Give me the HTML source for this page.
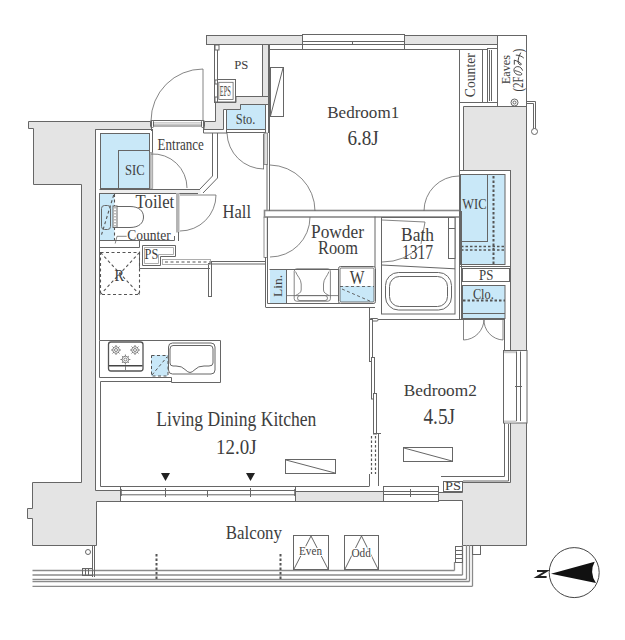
<!DOCTYPE html>
<html><head><meta charset="utf-8">
<style>
html,body{margin:0;padding:0;background:#fff;}
svg{display:block;}
.w{fill:#e4e4e4;stroke:#666;stroke-width:1;}
.f{fill:#fff;stroke:#666;stroke-width:1;}
.l{fill:none;stroke:#666;stroke-width:1;}
.t{fill:none;stroke:#666;stroke-width:0.8;}
.b{fill:#c9e8f8;stroke:#666;stroke-width:1;}
.bn{fill:#c9e8f8;stroke:none;}
.d{fill:none;stroke:#555;stroke-width:2;stroke-dasharray:2.5 2;}
.dt{fill:none;stroke:#555;stroke-width:1.1;stroke-dasharray:3 2.5;}
text{font-family:"Liberation Serif",serif;fill:#3d3d3d;}
</style></head><body>
<svg width="625" height="640" viewBox="0 0 625 640">
<g id="walls">
  <!-- top wall -->
  <rect class="w" x="206.5" y="35.5" width="291" height="9"/>
  <!-- PS/bedroom divider -->
  <rect class="w" x="262.5" y="44.5" width="6" height="59"/>
  <!-- gray below PS -->
  <polygon class="w" points="215.5,102.5 236,102.5 236,96.5 268.5,96.5 268.5,104.5 240.5,104.5 240.5,109.5 223.5,109.5 223.5,129.5 204,129.5 204,121.5 215.5,121.5"/>
  <!-- left exterior wall -->
  <polygon class="w" points="28.5,121.5 151.5,121.5 151.5,129.5 95.5,129.5 95.5,490.5 120.5,490.5 120.5,501.5 96.5,501.5 96.5,545.5 32.5,545.5 32.5,518.5 27.5,518.5 27.5,508.5 32.5,508.5 32.5,482.5 81.5,482.5 81.5,184.5 33.5,184.5 33.5,128.5 28.5,128.5"/>
  <!-- right upper block -->
  <polygon class="w" points="463.5,106.5 526.5,106.5 526.5,350.5 510.5,350.5 510.5,170.5 463.5,170.5"/>
  <!-- right lower -->
  <polygon class="w" points="510.5,422.5 526.5,422.5 526.5,545.5 462.5,545.5 462.5,500.5 438.5,500.5 438.5,492.5 462.5,492.5 462.5,482.5 510.5,482.5"/>
  <!-- bottom middle wall -->
  <rect class="w" x="295.5" y="491.5" width="88" height="10"/>
</g>

<g id="rooms">
  <!-- PS room -->
  <rect class="f" x="217.5" y="44.5" width="45" height="52"/>
  <!-- PS left thin wall -->
  <rect class="f" x="214.5" y="44.5" width="3" height="58"/>
  <rect class="f" x="215" y="45" width="4" height="5"/>
  <rect class="f" x="215" y="80" width="4" height="4"/>
  <rect class="f" x="215" y="97" width="4" height="5"/>
  <!-- EPS -->
  <rect class="f" x="217.5" y="79.5" width="18" height="22.5"/>
  <rect class="t" x="218.8" y="82.3" width="14.3" height="17.2"/>
  <!-- Sto -->
  <polygon class="b" points="226.5,109.5 240.5,109.5 240.5,104.5 265.5,104.5 265.5,129.5 226.5,129.5"/>
  <rect class="f" x="226.5" y="129.5" width="39" height="3"/>
  <!-- entrance threshold -->
  <rect class="f" x="151.5" y="120.5" width="52" height="5.5"/>
  <path d="M152,122.8 H203 M152,124.3 H203" stroke="#aaa" stroke-width="0.8" fill="none"/>
  <rect class="f" x="150.5" y="120.5" width="3" height="7" rx="1"/>
  <rect class="f" x="201.5" y="120.5" width="3" height="7" rx="1"/>
  <path class="l" d="M151.5,121 v10 M203.5,121 v12 H227"/>
  <!-- Entrance right wall -->
  <path class="l" d="M212.5,133 V176 L200,189 M217.5,133 V178 L203,193"/>
  <!-- SIC -->
  <rect class="b" x="100.5" y="133.5" width="49" height="55"/>
  <rect class="l" x="118.5" y="150.5" width="31" height="38"/>
  <path class="l" d="M152.5,129 V153"/>
  <rect x="150" y="152.5" width="2.8" height="36" fill="#c8c8c8" stroke="#888" stroke-width="0.6"/>
  <!-- toilet top wall -->
  <rect x="99.5" y="189.5" width="101" height="4" fill="#eee" stroke="none"/>
  <path class="l" d="M99.5,189.5 H200 M99.5,193.5 H198"/>
  <!-- toilet right wall -->
  <rect x="176" y="193" width="3.5" height="39.5" fill="#b4b4b4"/>
  <!-- toilet room -->
  <rect class="bn" x="100" y="194" width="14.5" height="46"/>
  <path class="dt" d="M114.5,194 V240 M113.7,195 L100.8,237"/>
  <path class="l" d="M99.5,240.5 H174.5 V236 M99.5,193 V340"/>
  <path class="l" d="M99.5,247.5 H139.5 V240.5"/>
  <rect class="l" x="101.5" y="205.5" width="9" height="24" rx="3"/>
  <rect class="f" x="113" y="206" width="4" height="21.5"/>
  <path class="dt" d="M115,207 V227" style="stroke-width:0.8;stroke-dasharray:1.5 1.5"/>
  <path class="l" d="M117,206.5 H130 C139,206.5 143.5,211 143.5,217 C143.5,223 139,227.5 130,227.5 H117"/>
  <path class="t" d="M115.2,243.5 L117,236.3 H126.7"/>
  <!-- inner left line -->
  <path class="l" d="M95.5,129.5 V490"/>
  <!-- hall/bedroom1 wall -->
  <rect x="264" y="133" width="3.5" height="31.5" fill="#e0e0e0" stroke="#777" stroke-width="0.8"/>
  <path class="l" d="M267,164 V211"/>
  <rect x="264" y="217" width="3.2" height="40.5" fill="#fff" stroke="#777" stroke-width="0.8"/>
  <path class="l" d="M265.5,257 V307"/>
  <!-- bedroom1 / powder wall -->
  <rect x="264.5" y="210.5" width="196" height="6.5" fill="#fff" stroke="#888" stroke-width="1.6"/>
  <!-- bedroom1 left inner -->
  <path class="l" d="M269.5,44.5 V211 M268.5,104 V133"/>
  <!-- top inner line -->
  <path class="l" d="M269.5,49.5 H459"/>
  <!-- closet in bedroom1 -->
  <rect class="f" x="270.5" y="67.5" width="13" height="49"/>
  <path class="l" d="M283,68 L270.5,116"/>
  <!-- Eaves box -->
  <rect class="f" x="497.5" y="35.5" width="29" height="71"/>
  <!-- counter box -->
  <rect class="f" x="459.5" y="49.5" width="23" height="53"/>
  <rect class="f" x="482.5" y="49.5" width="5" height="53"/>
  <rect class="f" x="487.5" y="48.5" width="10" height="54"/>
  <path class="l" d="M489.5,50 V101 M491.5,50 V101"/>
  <!-- right block inner line -->
  <path class="l" d="M459.5,102 V211"/>
  <!-- gutter -->
  <path class="l" d="M526.5,101.5 H535.5 V130"/>
  <path class="l" d="M526.5,103.5 H533.5 V130"/>
  <circle class="f" cx="534.5" cy="131.5" r="3"/>
  <circle class="l" cx="514.5" cy="102.5" r="3.5"/>
  <circle class="l" cx="514.5" cy="102.5" r="1.5"/>
  <!-- WIC -->
  <rect class="f" x="459.5" y="170.5" width="51" height="96"/>
  <rect class="b" x="460.5" y="174.5" width="44.5" height="90"/>
  <rect class="l" x="460.5" y="174.5" width="27" height="67"/>
  <path class="d" d="M493.5,176 V264"/>
  <path class="d" d="M461,246.5 H505 M461,250 H505" style="stroke-width:1.5"/>
  <!-- PS right -->
  <rect class="f" x="462.5" y="268.5" width="47" height="13"/>
  <!-- Clo -->
  <rect class="b" x="462.5" y="285.5" width="42.5" height="33"/>
  <path class="d" d="M463,300.5 H505"/>
  <path class="l" d="M463,313.5 H505"/>
  <path class="l" d="M504.5,318 V476.5 H441 M508.5,424 V481 H463"/>
  <path class="l" d="M459.5,266 V319"/>
  <!-- powder room -->
  <path class="l" d="M265.5,307.5 H375 M267.5,217 V303.5 H374"/>
  <rect class="bn" x="270" y="270" width="16" height="33"/>
  <path class="l" d="M269.5,269.5 H375 M286.5,270 V303"/>
  <rect class="f" x="338.5" y="266.5" width="37" height="37" rx="2"/>
  <rect class="bn" x="340" y="286" width="34" height="16"/>
  <rect class="t" x="340" y="268" width="34" height="34" rx="1" style="stroke:#555"/>
  <path class="dt" d="M340,286.5 H374 M342,289 L372,302" style="stroke-width:0.9"/>
  <!-- vanity sink -->
  <rect class="t" x="294.2" y="268.8" width="36.2" height="32.4" rx="2.5"/>
  <path class="t" d="M295.5,271.5 C297,276 301.2,279 301.2,284 V290 C301.2,293 298,294 295.5,295.6 M329,271.5 C327.5,276 323.5,279 323.5,284 V290 C323.5,293 326.5,294 329,295.6"/>
  <path class="t" d="M286.5,295.6 H338"/>
  <rect class="t" x="297.5" y="295.6" width="30" height="5" rx="2.5"/>
  <!-- bath -->
  <path class="l" d="M375,216.5 V267 M461.5,211 V319.5"/>
  <rect class="f" x="381.5" y="217.5" width="73.5" height="96.5"/>
  <path class="l" d="M381.5,265 L455,268.8"/>
  <rect class="l" x="385.5" y="272.5" width="66" height="37.5" rx="13"/>
  <rect class="l" x="389.5" y="276.5" width="58" height="30" rx="10"/>
  <rect class="f" x="448.5" y="217.5" width="6.5" height="41"/>
  <path class="l" d="M448.5,228.5 H455"/>
  <path class="t" d="M382,220 L425,222 L421,244 M382,262 Q405,262 420,246"/>
  <!-- bedroom2 top and left -->
  <path class="l" d="M369.5,319.5 H504 M378.5,433 V486 M369.5,307.5 V319"/>
  <!-- sliding panels -->
  <rect class="f" x="369.5" y="318.5" width="8.5" height="2.5" rx="1"/>
  <rect class="f" x="369.5" y="319.5" width="3" height="42"/>
  <rect class="f" x="371.5" y="357.5" width="3" height="41.5"/>
  <rect class="f" x="373.5" y="393.5" width="3" height="40.5"/>
  <path class="l" d="M373,433.5 H381"/>
  <path class="dt" d="M371.5,436 V474 M375.5,436 V474" style="stroke-width:1.2;stroke-dasharray:2.5 2"/>
  <path class="l" d="M369.5,474 V486"/>
  <!-- LDK upper wall -->
  <rect class="f" x="211.5" y="261.5" width="54" height="2.5"/>
  <rect class="f" x="208.5" y="263.5" width="3" height="33"/>
  <path class="dt" d="M165,262 H211"/>
  <!-- PS toilet side -->
  <polygon class="f" points="142.5,245.5 175.5,245.5 175.5,256.5 160.5,256.5 160.5,265.5 142.5,265.5"/>
  <polygon class="t" points="144.5,247.5 173.5,247.5 173.5,254.5 158.5,254.5 158.5,263.5 144.5,263.5" style="stroke:#999"/>
  <rect class="t" x="162.5" y="259.5" width="48" height="5" style="stroke:#999"/>
  <path class="l" d="M139.5,251.5 V268.5 H210 M178.5,232 V241"/>
  <!-- R box -->
  <rect class="dt" x="100.5" y="252.5" width="39" height="42"/>
  <path class="dt" d="M100.5,252.5 L139.5,294.5 M139.5,252.5 L100.5,294.5"/>
  <!-- kitchen counter -->
  <path class="f" d="M99.5,340.5 H220.5 V382.5 H171.5 V377.5 H99.5 Z"/>
  <path class="l" d="M100.5,381.5 H171 M100.5,381.5 V486.5 H120"/>
  <path class="l" d="M294,486.5 H369.5"/>
  <rect class="f" x="108.5" y="342" width="34.5" height="29" rx="2.5" style="stroke:#555;stroke-width:1.3"/>
  <path d="M109,365.8 H142.5" stroke="#444" stroke-width="1.6"/>
  <path class="t" d="M125.5,366 V370"/>
  <g transform="translate(116,350)"><circle r="3.3" class="t"/><circle r="1.5" class="t"/><path class="t" d="M-5,0 H-3.3 M3.3,0 H5 M0,-5 V-3.3 M0,3.3 V5 M-3.5,-3.5 L-2.3,-2.3 M3.5,3.5 L2.3,2.3 M-3.5,3.5 L-2.3,2.3 M3.5,-3.5 L2.3,-2.3"/></g><g transform="translate(135,350)"><circle r="3.3" class="t"/><circle r="1.5" class="t"/><path class="t" d="M-5,0 H-3.3 M3.3,0 H5 M0,-5 V-3.3 M0,3.3 V5 M-3.5,-3.5 L-2.3,-2.3 M3.5,3.5 L2.3,2.3 M-3.5,3.5 L-2.3,2.3 M3.5,-3.5 L2.3,-2.3"/></g><g transform="translate(125.4,359.5)"><circle r="3.3" class="t"/><circle r="1.5" class="t"/><path class="t" d="M-5,0 H-3.3 M3.3,0 H5 M0,-5 V-3.3 M0,3.3 V5 M-3.5,-3.5 L-2.3,-2.3 M3.5,3.5 L2.3,2.3 M-3.5,3.5 L-2.3,2.3 M3.5,-3.5 L2.3,-2.3"/></g>
  <rect class="bn" x="151" y="355" width="17" height="21"/>
  <rect class="dt" x="151.5" y="355.5" width="16.5" height="20.5" style="stroke-width:1"/>
  <path class="dt" d="M152,375 L167,357" style="stroke-width:1"/>
  <rect class="l" x="168.5" y="343" width="46.5" height="31" rx="4"/>
  <path class="l" d="M173,345.5 H210 Q213,345.5 213,349 V363 Q213,366 209,366 H204 Q198,366 195,369.5 Q192,372.5 190,372.5 Q188,372.5 185,369.5 Q182,366 176,366 H173 Q170,366 170,363 V349 Q170,345.5 173,345.5 Z"/>
</g>
<g id="windows">
  <!-- bedroom1 top window -->
  <rect class="f" x="302.5" y="34.5" width="102" height="15"/>
  <path class="l" d="M303,41.5 H404 M303,44.5 H404 M352.5,42 V44"/>
  <!-- LDK bottom window -->
  <rect class="f" x="120.5" y="486.5" width="175" height="15"/>
  <path class="l" d="M121,490.5 H295 M121,494.8 H295 M165.5,488 V497 M207.5,490 V497 M250.5,488 V497"/>
  <path class="t" d="M121,489 v7 M295,489 v7" style="stroke-width:1.5"/>
  <!-- bedroom2 bottom window -->
  <rect class="f" x="383.5" y="486.5" width="55" height="15"/>
  <path class="l" d="M384,491.5 H438 M384,494.5 H438 M410.5,489 V497"/>
  <!-- bedroom2 right window -->
  <rect class="f" x="503.5" y="350.5" width="23.5" height="72.5"/>
  <rect x="504" y="351" width="12.5" height="2.2" fill="#ccc"/>
  <rect x="504" y="420.5" width="12.5" height="2.2" fill="#ccc"/>
  <path class="l" d="M516.5,351.5 V421 M520.5,351.5 V421 M515,386.5 H522"/>
  <!-- bottom-right PS -->
  <rect class="f" x="443.5" y="481.5" width="19" height="10"/>
</g>
<g id="doors">
  <path class="t" d="M203,69 V121 M203,69 A52,52 0 0 0 151,121"/>
  <path class="t" d="M151,154 A34,34 0 0 1 187,188"/>
  <path class="t" d="M180,195 H216 A36,36 0 0 1 180,231"/>
  <path class="t" d="M227,133 A37,37 0 0 0 264,169 M263.5,134 V169"/>
  <path class="t" d="M270,165 A46,46 0 0 1 315,211"/>
  <path class="t" d="M270,257 A40,40 0 0 0 310,217"/>
  <path class="t" d="M459,176 A35,35 0 0 0 424,211"/>
  <path class="t" d="M463.5,319 V340 A21,21 0 0 0 484,319 M503,319 V340 A20,20 0 0 1 484,319"/>
</g>
<g id="balcony">
  <path class="l" d="M32.5,570.5 H454.5 M32.5,575 H462.5 M32.5,579.3 H466.5 M32.5,581.5 H469.5 M32.5,586.3 H472.5" style="stroke:#8a8a8a;stroke-width:1.3"/>
  <path class="l" d="M454.5,562 V570.5 M462.5,545 V575 M466.5,545 V579.3 M469.5,545 V581.5 M472.5,545 V586.3" style="stroke:#8a8a8a;stroke-width:1.3"/>
  <path class="l" d="M94.5,545 V577 M92.5,545 V577"/>
  <circle class="l" cx="88" cy="552" r="2.5"/>
  <rect class="l" x="82.5" y="568.5" width="10" height="7"/>
  <path class="l" d="M85.5,569 V575 M88.5,569 V575"/>
  <rect class="l" x="455.5" y="546.5" width="7" height="16"/>
  <path class="l" d="M456,550.5 H462 M456,554.5 H462 M456,558.5 H462"/>
  <rect class="l" x="472.5" y="545.5" width="8" height="9"/>
  <path class="d" d="M156.5,554 V579 M280.5,554 V579"/>
  <rect class="f" x="293.5" y="535.5" width="35" height="34"/>
  <path class="l" d="M294,569 L311,536 L328,569"/>
  <rect class="f" x="344.5" y="535.5" width="34" height="34"/>
  <path class="l" d="M345,569 L361.5,536 L378,569"/>
  <!-- heating symbols -->
  <rect class="f" x="285.5" y="459.5" width="50" height="14"/>
  <path class="l" d="M286,460 L335,473"/>
  <rect class="f" x="403.5" y="447.5" width="49" height="14"/>
  <path class="l" d="M404,448 L452,461"/>
  <!-- markers -->
  <path d="M161,473 H170 L165.5,481 Z M246,473 H255 L250.5,481 Z" fill="#222"/>
  <!-- compass -->
  <circle cx="574.2" cy="572.6" r="25" fill="#fff" stroke="#444" stroke-width="1"/>
  <path d="M551,573.8 L594.7,561.8 Q588.8,572.5 596,583 Z" fill="#111"/>
</g>
<g id="labels">
  <text x="234.3" y="68.8" font-size="13.2" textLength="14.1" lengthAdjust="spacingAndGlyphs">PS</text>
  <text x="219.7" y="96" font-size="15.5" textLength="11.1" lengthAdjust="spacingAndGlyphs">EPS</text>
  <text x="235.8" y="123.5" font-size="15" textLength="19.6" lengthAdjust="spacingAndGlyphs">Sto.</text>
  <text x="157.5" y="150.2" font-size="17" textLength="46.4" lengthAdjust="spacingAndGlyphs">Entrance</text>
  <text x="125" y="174.8" font-size="14.8" textLength="19.6" lengthAdjust="spacingAndGlyphs">SIC</text>
  <text x="135.6" y="207.8" font-size="19.2" textLength="38.6" lengthAdjust="spacingAndGlyphs">Toilet</text>
  <text x="127.2" y="239.5" font-size="14.6" textLength="43.6" lengthAdjust="spacingAndGlyphs">Counter</text>
  <text x="144.6" y="259.2" font-size="15.5" textLength="13.8" lengthAdjust="spacingAndGlyphs">PS</text>
  <text x="114.6" y="280.9" font-size="17" textLength="9.6" lengthAdjust="spacingAndGlyphs">R</text>
  <text x="222.5" y="218" font-size="18.6" textLength="28.5" lengthAdjust="spacingAndGlyphs">Hall</text>
  <text x="327.2" y="118.1" font-size="16.8" textLength="72" lengthAdjust="spacingAndGlyphs">Bedroom1</text>
  <text x="347.4" y="145.4" font-size="20" textLength="31.4" lengthAdjust="spacingAndGlyphs">6.8J</text>
  <text x="0" y="0" font-size="14" textLength="44" lengthAdjust="spacingAndGlyphs" transform="translate(475.2,97.2) rotate(-90)">Counter</text>
  <text x="0" y="0" font-size="13.5" textLength="29" lengthAdjust="spacingAndGlyphs" transform="translate(509.5,84.1) rotate(-90)">Eaves</text>
  <g transform="translate(522.3,91.1) rotate(-90)">
    <text x="-0.5" y="0.5" font-size="14" textLength="15" lengthAdjust="spacingAndGlyphs">(2F</text>
    <path d="M20.5,-7.5 C19.5,-3.5 18.5,-0.5 17,-0.5 C15.8,-0.5 15.8,-3 16.5,-5 C17.5,-7.5 19.5,-8.5 21.5,-8.3 C23.5,-8 24.5,-6.5 24.5,-4.5 C24.5,-2 22.5,-0.3 20.5,0.3" fill="none" stroke="#333" stroke-width="0.9"/>
    <path d="M26.5,-8 H31 C30,-5 28.5,-1.5 27,-1 C25.8,-0.6 25.8,-3.5 28.5,-4 C31.5,-4.5 35,-3.5 38.5,-1.5 M36,-6.5 C36,-3.5 35,-0.5 33,1.5" fill="none" stroke="#333" stroke-width="0.9"/>
    <text x="38.8" y="0.5" font-size="14" textLength="3.5" lengthAdjust="spacingAndGlyphs">)</text>
  </g>
  <text x="462.3" y="208.8" font-size="15.3" textLength="24.2" lengthAdjust="spacingAndGlyphs">WIC</text>
  <text x="311" y="238.4" font-size="18.6" textLength="53" lengthAdjust="spacingAndGlyphs">Powder</text>
  <text x="318" y="254" font-size="18.6" textLength="40" lengthAdjust="spacingAndGlyphs">Room</text>
  <text x="401" y="241.3" font-size="18.5" textLength="33" lengthAdjust="spacingAndGlyphs">Bath</text>
  <text x="402" y="258.6" font-size="20.3" textLength="31" lengthAdjust="spacingAndGlyphs">1317</text>
  <text x="349.7" y="284" font-size="18.5" textLength="14.7" lengthAdjust="spacingAndGlyphs">W</text>
  <text x="0" y="0" font-size="13" textLength="22" lengthAdjust="spacingAndGlyphs" transform="translate(281.6,297) rotate(-90)">Lin.</text>
  <text x="479" y="280" font-size="13.8" textLength="14.3" lengthAdjust="spacingAndGlyphs">PS</text>
  <text x="472.9" y="299" font-size="14.8" textLength="20.9" lengthAdjust="spacingAndGlyphs">Clo.</text>
  <text x="156.3" y="426.3" font-size="20.3" textLength="160" lengthAdjust="spacingAndGlyphs">Living Dining Kitchen</text>
  <text x="216" y="454" font-size="21.2" textLength="40.5" lengthAdjust="spacingAndGlyphs">12.0J</text>
  <text x="403.8" y="396.2" font-size="17.6" textLength="73" lengthAdjust="spacingAndGlyphs">Bedroom2</text>
  <text x="423.5" y="423.8" font-size="23" textLength="31.5" lengthAdjust="spacingAndGlyphs">4.5J</text>
  <text x="225.8" y="538.8" font-size="18.9" textLength="56.2" lengthAdjust="spacingAndGlyphs">Balcony</text>
  <text x="299" y="555.4" font-size="12.5" textLength="23" lengthAdjust="spacingAndGlyphs" style="fill:#444;stroke:#fff;stroke-width:2;paint-order:stroke">Even</text>
  <text x="351.5" y="556.5" font-size="12.5" textLength="19.3" lengthAdjust="spacingAndGlyphs" style="fill:#444;stroke:#fff;stroke-width:2;paint-order:stroke">Odd</text>
  <text x="445" y="489.5" font-size="13" textLength="16" lengthAdjust="spacingAndGlyphs">PS</text>
  <path d="M537,571 H546.6 L537,577 H546.6" fill="none" stroke="#222" stroke-width="2" stroke-linejoin="miter"/>
</g>
</svg>
</body></html>
